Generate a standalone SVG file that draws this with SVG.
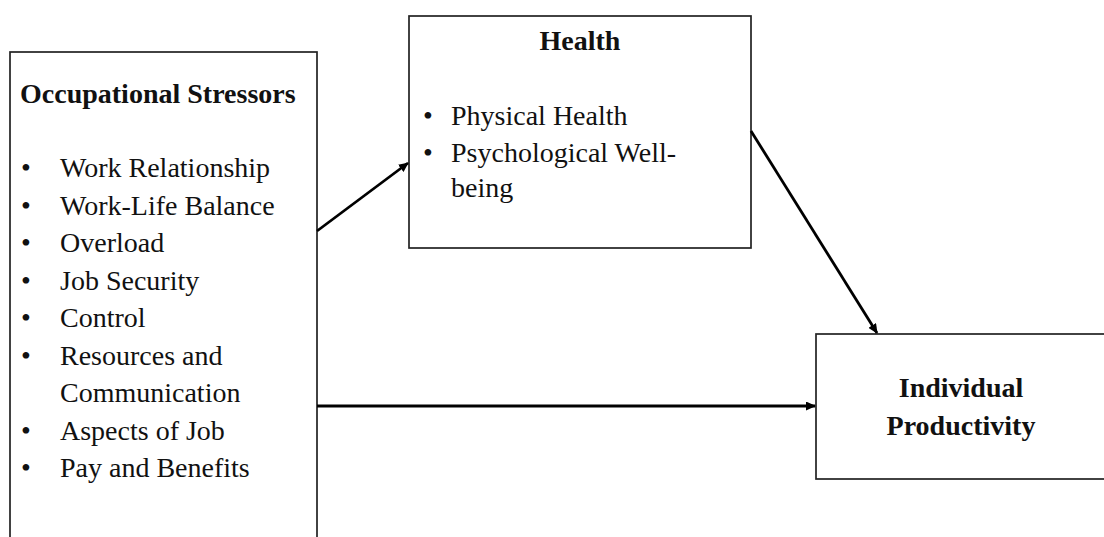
<svg xmlns="http://www.w3.org/2000/svg" width="1104" height="537" viewBox="0 0 1104 537">
<style>
.box{fill:#fff;stroke:#222;stroke-width:1.7}
.t{font-family:"Liberation Serif","Times New Roman",serif;font-size:28px;fill:#111}
.b{font-weight:bold}
.c{stroke:#000;stroke-width:2.8;fill:none;marker-end:url(#ah)}
</style>
<defs>
<marker id="ah" markerWidth="10" markerHeight="9" refX="9" refY="4.5" orient="auto" markerUnits="userSpaceOnUse">
<path d="M0,0 L10,4.5 L0,9 Z" fill="#000"/>
</marker>
</defs>
<rect width="1104" height="537" fill="#fff"/>
<g id="stressors">
<rect class="box" x="10" y="52" width="307" height="600"/>
<text class="t b" x="20" y="103">Occupational Stressors</text>
<text class="t" x="21" y="177">•</text><text class="t" x="60" y="177">Work Relationship</text>
<text class="t" x="21" y="215">•</text><text class="t" x="60" y="215">Work-Life Balance</text>
<text class="t" x="21" y="252">•</text><text class="t" x="60" y="252">Overload</text>
<text class="t" x="21" y="290">•</text><text class="t" x="60" y="290">Job Security</text>
<text class="t" x="21" y="327">•</text><text class="t" x="60" y="327">Control</text>
<text class="t" x="21" y="365">•</text><text class="t" x="60" y="365">Resources and</text>
<text class="t" x="60" y="402">Communication</text>
<text class="t" x="21" y="440">•</text><text class="t" x="60" y="440">Aspects of Job</text>
<text class="t" x="21" y="477">•</text><text class="t" x="60" y="477">Pay and Benefits</text>
</g>
<g id="health">
<rect class="box" x="409" y="16" width="342" height="232"/>
<text class="t b" x="580" y="50" text-anchor="middle">Health</text>
<text class="t" x="423" y="125">•</text><text class="t" x="451" y="125">Physical Health</text>
<text class="t" x="423" y="162">•</text><text class="t" x="451" y="162">Psychological Well-</text>
<text class="t" x="451" y="197">being</text>
</g>
<g id="productivity">
<rect class="box" x="816" y="334" width="300" height="145"/>
<text class="t b" x="961" y="397" text-anchor="middle">Individual</text>
<text class="t b" x="961" y="435" text-anchor="middle">Productivity</text>
</g>
<g id="connectors">
<line class="c" x1="317" y1="231" x2="408" y2="163"/>
<line class="c" x1="751" y1="131" x2="877" y2="333"/>
<line class="c" x1="317" y1="406" x2="815" y2="406"/>
</g>
</svg>
